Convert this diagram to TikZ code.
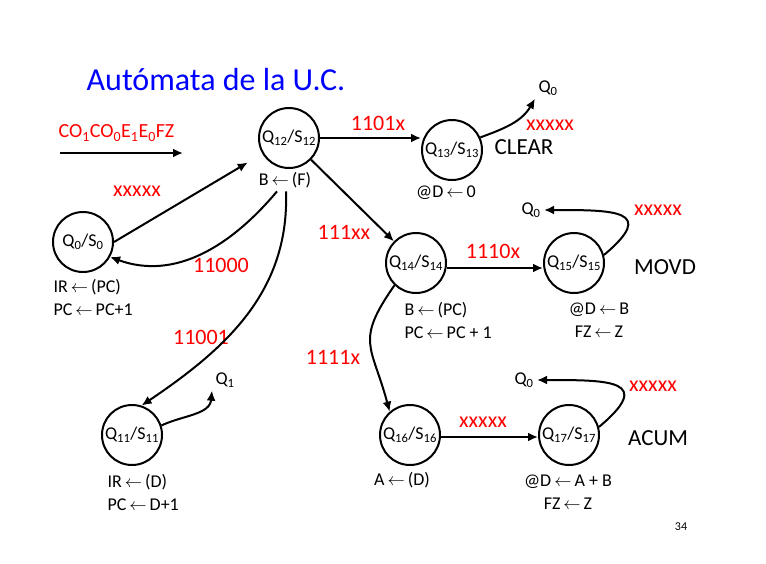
\documentclass[tikz,border=0pt]{standalone}
\usepackage{fontspec}
\setmainfont{Carlito}
\usetikzlibrary{arrows.meta,positioning}
\newcommand{\qsub}[1]{Q\textsubscript{#1}/S\textsubscript{#1}}
\newcommand{\asg}{\,$\leftarrow$\,}

\begin{document}
\begin{tikzpicture}[x=1pt,y=-1pt,
  state/.style={draw,circle,line width=2pt,minimum size=60pt,inner sep=0pt,font=\fontsize{18}{18}\selectfont},
  act/.style={font=\fontsize{18}{23}\selectfont},
  cond/.style={text=red,font=\fontsize{22}{22}\selectfont},
  tag/.style={font=\fontsize{23}{23}\selectfont},
  edge/.style={line width=2pt,-{Latex[length=10pt,width=9pt]}}]
  \useasboundingbox (0,0) rectangle (766,563);

  \node[text=blue,font=\fontsize{32}{32}\selectfont] (title) at (216,80) {Autómata de la U.C.};

  % states
  \foreach \n/\x/\y in {0/83/242,12/289/138,13/452/150,14/416/263,15/574/263,11/132/435,16/410/435,17/569/435}
    \node[state] (q\n) at (\x,\y) {\qsub{\n}};

  % actions
  \node[act,align=left,anchor=west] (a0) at (50,297) {IR\asg(PC)\\PC\asg PC+1};
  \node[act] (a12) at (285,180) {B\asg(F)};
  \node[act] (a13) at (446,193) {@D\asg 0};
  \node[act,align=left,anchor=west] (a14) at (401,320) {B\asg(PC)\\PC\asg PC + 1};
  \node[act,align=center] (a15) at (599,320) {@D\asg B\\FZ\asg Z};
  \node[act,align=left,anchor=west] (a11) at (104,492) {IR\asg(D)\\PC\asg D+1};
  \node[act] (a16) at (402,480) {A\asg(D)};
  \node[act,align=center] (a17) at (568,492) {@D\asg A + B\\FZ\asg Z};

  \node[act] (t13) at (548,88) {Q\textsubscript{0}};
  \node[act] (t15) at (531,210) {Q\textsubscript{0}};
  \node[act] (t17) at (524,380) {Q\textsubscript{0}};
  \node[act] (t11) at (225,380) {Q\textsubscript{1}};

  \node[tag] (clear) at (524,147) {CLEAR};
  \node[tag] (movd) at (665,267) {MOVD};
  \node[tag] (acum) at (658,438) {ACUM};

  % input arrow
  \node[text=red,font=\fontsize{20}{20}\selectfont,anchor=west] (inp) at (55,133) {CO\textsubscript{1}CO\textsubscript{0}E\textsubscript{1}E\textsubscript{0}FZ};
  \coordinate (in1) at (60,153);
  \coordinate (in2) at (183,153);
  \draw[edge] (in1) -- (in2);

  % conditions
  \node[cond] (c1) at (137,191) {xxxxx};
  \node[cond] (c2) at (221,265) {11000};
  \node[cond] (c3) at (201,337) {11001};
  \node[cond] (c4) at (378,123) {1101x};
  \node[cond] (c5) at (344,232) {111xx};
  \node[cond] (c6) at (493,251) {1110x};
  \node[cond] (c7) at (333,357) {1111x};
  \node[cond] (c8) at (550,125) {xxxxx};
  \node[cond] (c9) at (658,210) {xxxxx};
  \node[cond] (c10) at (483,422) {xxxxx};
  \node[cond] (c11) at (653,386) {xxxxx};

  % transitions
  \draw[edge,shorten >=17pt] (q0.east) -- (q12);
  \draw[edge] ([xshift=-8pt]a12.south) to[out=230,in=-20] (q0.-29);
  \draw[edge] ([xshift=1pt]a12.south) to[out=-88,in=34] (q11.72);
  \draw[edge] (q11.18) to[out=25,in=-95] (t11.south west);
  \draw[edge] (q12.east) -- (q12.east -| q13.west);
  \draw[edge] (q13.24) to[out=20,in=-120] (t13.south west);
  \draw[edge] (q12) -- (q14);
  \draw[edge] ([yshift=-5pt]q14.east) -- ([yshift=-5pt]q15.west);
  \draw[edge] (q15.15) to[out=40,in=0,looseness=2.4] (t15.east);
  \draw[edge] (q14.226) to[out=235,in=105,looseness=1.4] (q16.131);
  \draw[edge] ([yshift=-2pt]q16.east) -- ([yshift=-2pt]q17.west);
  \draw[edge] (q17.15) to[out=40,in=0,looseness=2.4] (t17.east);

  \node[font=\fontsize{12}{12}\selectfont] (page) at (681,527) {34};
\end{tikzpicture}
\end{document}
